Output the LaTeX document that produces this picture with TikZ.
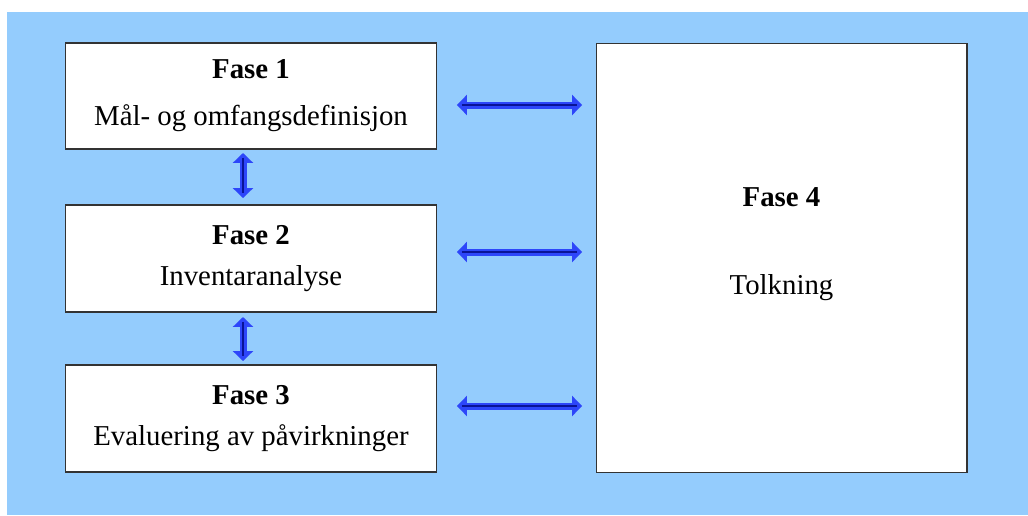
\documentclass[tikz,border=0pt]{standalone}
\usepackage{fontspec}
\setmainfont{Liberation Serif}
\usepackage{tikz}
\usetikzlibrary{arrows.meta,calc}
\usepackage{xcolor}
\definecolor{skyclr}{RGB}{148,204,253}
\definecolor{arrclr}{RGB}{45,70,250}
\definecolor{arrdark}{RGB}{10,20,150}

\begin{document}
\begin{tikzpicture}[x=0.02cm, y=-0.02cm,
    fase/.style={rectangle, draw=black!80, line width=0.6pt, fill=white,
          inner sep=0pt, outer sep=0pt, align=center,
          font=\fontsize{16.4}{23.3}\selectfont},
    link/.style={draw=arrclr, line width=0.14cm,
          {Triangle[width=0.4cm,length=0.2cm]}-{Triangle[width=0.4cm,length=0.2cm]}},
    core/.style={draw=arrdark, line width=0.05cm}]
    \useasboundingbox (0,0) rectangle (1028,515);
    \fill[skyclr] (7,12) rectangle (1028,515);
    \node[fase, minimum width=7.44cm, minimum height=2.12cm] (F1) at (251,96)
          {\textbf{Fase 1}\\[0.12cm] Mål- og omfangsdefinisjon};
    \node[fase, minimum width=7.44cm, minimum height=2.14cm] (F2) at (251,258.5)
          {\textbf{Fase 2}\\ Inventaranalyse};
    \node[fase, minimum width=7.44cm, minimum height=2.14cm] (F3) at (251,418.5)
          {\textbf{Fase 3}\\ Evaluering av påvirkninger};
    \node[fase, minimum width=7.42cm, minimum height=8.6cm] (F4) at (781.5,258) {};
    \node[align=center, font=\fontsize{16.4}{23.3}\selectfont] (T4) at (781.5,244)
          {\textbf{Fase 4}\\[0.94cm] Tolkning};
    % piler mellom fasene
    \foreach \a/\b/\s/\e in {F1/F2/0.08/0.14,F2/F3/0.1/0.08}{
      \draw[link, shorten <=\s cm, shorten >=\e cm] (\a.south -| 243,0) -- (\b.north -| 243,0);
      \draw[core, shorten <=\s cm+0.1cm, shorten >=\e cm+0.1cm] (\a.south -| 243,0) -- (\b.north -| 243,0);
    }
    \foreach \f/\y in {F1/105,F2/252,F3/406}{
      \draw[link, shorten <=0.4cm, shorten >=0.28cm] (\f.east |- 0,\y) -- (F4.west |- 0,\y);
      \draw[core, shorten <=0.5cm, shorten >=0.38cm] (\f.east |- 0,\y) -- (F4.west |- 0,\y);
    }
  \end{tikzpicture}
\end{document}
